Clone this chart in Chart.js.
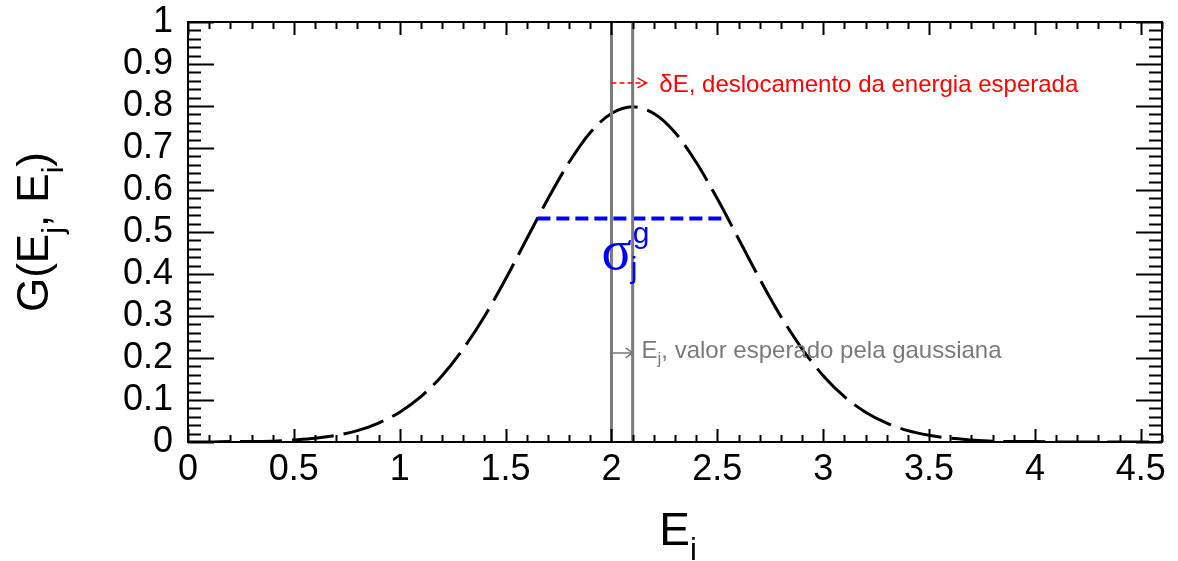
<!DOCTYPE html>
<html>
<head>
<meta charset="utf-8">
<script src="https://cdn.jsdelivr.net/npm/chart.js@4.4.1/dist/chart.umd.min.js"></script>
<style>
    html, body { margin: 0; padding: 0; background: #fff; }
    canvas { display: block; }
</style>
</head>
<body>
<canvas id="graficoGauss" width="1178" height="561"></canvas>
<script>
// energy axis and gaussian response G(Ej, Ei)
const energias = [0, 0.1, 0.2, 0.3, 0.4, 0.5, 0.6, 0.7, 0.8, 0.9,
    1.0, 1.1, 1.2, 1.3, 1.4, 1.5, 1.6, 1.7, 1.8, 1.9,
    2.0, 2.1, 2.2, 2.3, 2.4, 2.5, 2.6, 2.7, 2.8, 2.9,
    3.0, 3.1, 3.2, 3.3, 3.4, 3.5, 3.6, 3.7, 3.8, 3.9,
    4.0, 4.1, 4.2, 4.3, 4.4, 4.5, 4.6];
const valoresG = [0.000, 0.000, 0.001, 0.001, 0.002, 0.005, 0.009, 0.016, 0.027, 0.045,
    0.071, 0.108, 0.158, 0.222, 0.299, 0.388, 0.484, 0.579, 0.666, 0.737,
    0.782, 0.798, 0.782, 0.737, 0.666, 0.579, 0.484, 0.388, 0.299, 0.222,
    0.158, 0.108, 0.071, 0.045, 0.027, 0.016, 0.009, 0.005, 0.002, 0.001,
    0.001, 0.000, 0.000, 0.000, 0.000, 0.000, 0.000];

// expected value Ej and the shifted one (Ej + dE)
const energiaEsperada = 2.0;
const energiaDeslocada = 2.1;

// width marker
const larguraNivel = 0.532;
const larguraInicio = 1.65;
const larguraFim = 2.55;

const xTicks = [0, 0.5, 1, 1.5, 2, 2.5, 3, 3.5, 4, 4.5];
const yTicks = [0, 0.1, 0.2, 0.3, 0.4, 0.5, 0.6, 0.7, 0.8, 0.9, 1];

const fonte = '"Liberation Sans", Arial, sans-serif';
const cinza = '#7a7a7a';

const pontosG = energias.map((e, i) => ({ x: e, y: valoresG[i] }));

// frame, inside ticks on all four sides, titles and labels
const rootStyle = {
    id: 'rootStyle',
    afterDraw(chart) {
        const { ctx, chartArea: a, scales: { x, y } } = chart;
        ctx.save();

        ctx.strokeStyle = '#000';
        ctx.lineWidth = 2;
        ctx.strokeRect(a.left, a.top, a.right - a.left, a.bottom - a.top);

        ctx.beginPath();
        for (let i = 0; i <= 46; i++) {
            const px = Math.round(x.getPixelForValue(i / 10)) + 0.5;
            const len = i % 5 === 0 ? 13 : 7;
            ctx.moveTo(px, a.bottom); ctx.lineTo(px, a.bottom - len);
            ctx.moveTo(px, a.top); ctx.lineTo(px, a.top + len);
        }
        for (let i = 0; i <= 50; i++) {
            const py = Math.round(y.getPixelForValue(i / 50)) + 0.5;
            const len = i % 5 === 0 ? 26 : 13;
            ctx.moveTo(a.left, py); ctx.lineTo(a.left + len, py);
            ctx.moveTo(a.right, py); ctx.lineTo(a.right - len, py);
        }
        ctx.lineWidth = 2;
        ctx.stroke();

        // arrows between Ej and Ej + dE
        const x0 = x.getPixelForValue(energiaEsperada);
        const yr = y.getPixelForValue(0.855);
        ctx.strokeStyle = '#ff0000';
        ctx.lineWidth = 1.5;
        ctx.setLineDash([5, 3]);
        ctx.beginPath();
        ctx.moveTo(x0, yr); ctx.lineTo(x0 + 34, yr);
        ctx.stroke();
        ctx.setLineDash([]);
        ctx.beginPath();
        ctx.moveTo(x0 + 26, yr - 5); ctx.lineTo(x0 + 35, yr); ctx.lineTo(x0 + 26, yr + 5);
        ctx.stroke();

        const x1 = x.getPixelForValue(energiaDeslocada);
        const yg = y.getPixelForValue(0.212);
        ctx.strokeStyle = cinza;
        ctx.beginPath();
        ctx.moveTo(x0, yg); ctx.lineTo(x1, yg);
        ctx.moveTo(x1 - 7, yg - 5); ctx.lineTo(x1, yg); ctx.lineTo(x1 - 7, yg + 5);
        ctx.stroke();

        ctx.textBaseline = 'alphabetic';
        ctx.textAlign = 'left';
        ctx.fillStyle = '#ff0000';
        ctx.font = '24px ' + fonte;
        ctx.fillText('\u03b4E, deslocamento da energia esperada', x.getPixelForValue(2.226), yr + 9);

        ctx.fillStyle = cinza;
        let tx = x.getPixelForValue(2.142);
        ctx.fillText('E', tx, yg + 5);
        tx += ctx.measureText('E').width;
        ctx.font = '17px ' + fonte;
        ctx.fillText('j', tx, yg + 11);
        tx += ctx.measureText('j').width;
        ctx.font = '24px ' + fonte;
        ctx.fillText(', valor esperado pela gaussiana', tx, yg + 5);

        // sigma label
        ctx.fillStyle = '#0000ff';
        const sx = x.getPixelForValue(1.953);
        const sy = y.getPixelForValue(0.412);
        ctx.font = '56px "Liberation Serif", "Times New Roman", serif';
        ctx.fillText('\u03c3', sx, sy);
        const sw = ctx.measureText('\u03c3').width;
        ctx.font = '30px ' + fonte;
        ctx.fillText('g', sx + sw + 1, sy - 26);
        ctx.fillText('j', sx + sw - 1, sy + 9);

        // axis titles
        ctx.fillStyle = '#000';
        const partes = (lista) => lista.reduce((w, p) => {
            ctx.font = p[1] + 'px ' + fonte;
            return w + ctx.measureText(p[0]).width;
        }, 0);
        const escreve = (lista, start) => {
            let px = start;
            lista.forEach(p => {
                ctx.font = p[1] + 'px ' + fonte;
                ctx.fillText(p[0], px, p[2]);
                px += ctx.measureText(p[0]).width;
            });
        };

        const tituloX = [['E', 46, 0], ['i', 31, 15]];
        ctx.save();
        ctx.translate((a.left + a.right) / 2 + 3, 545);
        escreve(tituloX, -partes(tituloX) / 2);
        ctx.restore();

        const tituloY = [['G(E', 44, 0], ['j', 30, 15], [', E', 44, 0], ['i', 30, 15], [')', 44, 0]];
        ctx.save();
        ctx.translate(48, (a.top + a.bottom) / 2);
        ctx.rotate(-Math.PI / 2);
        escreve(tituloY, -partes(tituloY) / 2);
        ctx.restore();

        ctx.restore();
    }
};

const ctx1 = document.getElementById('graficoGauss').getContext('2d');

const graficoGauss = new Chart(ctx1, {
    type: 'line',
    data: {
        datasets: [
            {
                data: [{ x: energiaEsperada, y: 0 }, { x: energiaEsperada, y: 1 }],
                borderColor: cinza,
                borderWidth: 3,
                pointRadius: 0,
                order: 0
            },
            {
                data: [{ x: energiaDeslocada, y: 0 }, { x: energiaDeslocada, y: 1 }],
                borderColor: cinza,
                borderWidth: 3,
                pointRadius: 0,
                order: 0
            },
            {
                data: [{ x: larguraInicio, y: larguraNivel }, { x: larguraFim, y: larguraNivel }],
                borderColor: '#0000ff',
                borderWidth: 4,
                borderDash: [13, 6],
                pointRadius: 0,
                order: 1
            },
            {
                data: pontosG,
                borderColor: '#000',
                borderWidth: 3,
                borderDash: [42, 10],
                cubicInterpolationMode: 'monotone',
                pointRadius: 0,
                order: 2
            }
        ]
    },
    options: {
        responsive: false,
        animation: false,
        layout: {
            padding: { top: 22, right: 16, left: 0, bottom: 0 }
        },
        plugins: {
            legend: { display: false },
            tooltip: { enabled: false }
        },
        scales: {
            x: {
                type: 'linear',
                min: 0,
                max: 4.6,
                grid: { display: false, drawTicks: false },
                border: { display: false },
                afterBuildTicks: (s) => { s.ticks = xTicks.map(v => ({ value: v })); },
                afterFit: (s) => {
                    s.height = 119;
                    s.paddingLeft = 0;
                    s.paddingRight = 0;
                },
                ticks: {
                    font: { family: fonte, size: 36 },
                    color: '#000',
                    padding: 6,
                    maxRotation: 0,
                    autoSkip: false,
                    callback: (v) => String(v)
                }
            },
            y: {
                min: 0,
                max: 1,
                grid: { display: false, drawTicks: false },
                border: { display: false },
                afterBuildTicks: (s) => { s.ticks = yTicks.map(v => ({ value: v })); },
                afterFit: (s) => {
                    s.width = 188;
                    s.paddingTop = 0;
                    s.paddingBottom = 0;
                },
                ticks: {
                    font: { family: fonte, size: 36 },
                    color: '#000',
                    padding: 15,
                    autoSkip: false,
                    callback: (v) => String(v)
                }
            }
        }
    },
    plugins: [rootStyle]
});
</script>
</body>
</html>
